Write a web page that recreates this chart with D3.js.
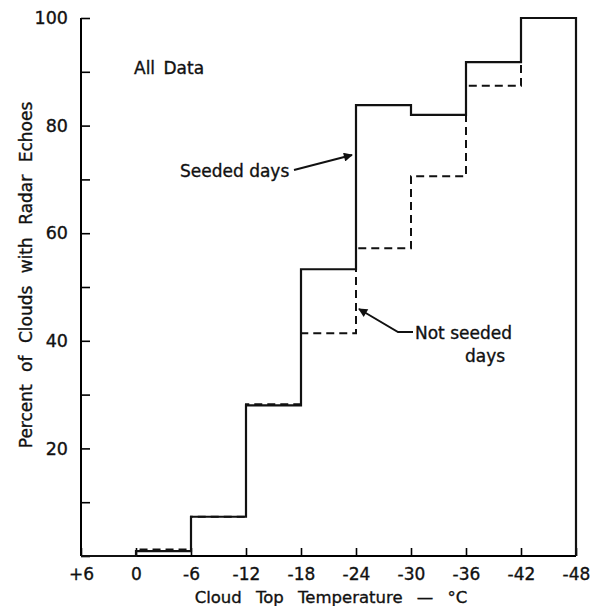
<!DOCTYPE html>
<html>
<head>
<meta charset="utf-8">
<script src="https://cdn.jsdelivr.net/npm/d3@7"></script>
<style>
  body { margin: 0; background: #fff; }
  svg text { font-family: 'DejaVu Sans', 'Liberation Sans', sans-serif; fill: #111; stroke: #111; stroke-width: 0.35px; }
</style>
</head>
<body>
<main></main>
<script>
// bin edges, cloud top temperature (deg C)
const binEdges = [6, 0, -6, -12, -18, -24, -30, -36, -42, -48]
const xTickLabels = ['+6', '0', '-6', '-12', '-18', '-24', '-30', '-36', '-42', '-48']
// percent of clouds with radar echoes, one value per bin
const seeded = [0, 0.9, 7.3, 28, 53.3, 83.8, 82, 91.8, 100]
const notSeeded = [0, 1.2, 7.3, 28.2, 41.4, 57.2, 70.6, 87.4, 100]
const yTicks = [0, 10, 20, 30, 40, 50, 60, 70, 80, 90, 100]
const yLabels = [20, 40, 60, 80, 100]

const width = 590
const height = 606
const margin = { left: 81, right: 14, top: 18, bottom: 50 }

const svg = d3.select('main')
  .append('svg')
  .attr('width', width)
  .attr('height', height)

const x = d3.scaleLinear()
  .domain([6, -48])
  .range([margin.left, width - margin.right])
const y = d3.scaleLinear()
  .domain([0, 100])
  .range([height - margin.bottom, margin.top])

// axes
const xAxis = d3.axisBottom(x)
  .tickValues(binEdges)
  .tickSize(-8)
  .tickFormat((d, i) => xTickLabels[i])
const gx = svg.append('g')
  .attr('transform', `translate(0,${y(0)})`)
  .call(xAxis)
gx.select('.domain').attr('stroke-width', 2).attr('d', `M${x(6)},0H${x(-48)}`)
gx.selectAll('.tick line').attr('stroke-width', 1.6)
gx.selectAll('.tick text')
  .attr('y', 10)
  .attr('dy', '0.8em')
  .style('font-size', '17px')

const yAxis = d3.axisLeft(y)
  .tickValues(yTicks)
  .tickSize(-9)
  .tickFormat(d => yLabels.includes(d) ? d : '')
const gy = svg.append('g')
  .attr('transform', `translate(${x(6)},0)`)
  .call(yAxis)
gy.select('.domain').attr('stroke-width', 2).attr('d', `M0,${y(100)}V${y(0)}`)
gy.selectAll('.tick line').attr('stroke-width', 1.6)
gy.selectAll('.tick text')
  .attr('x', -13)
  .style('font-size', '17.5px')

// step lines
const stepPoints = vals => {
  const pts = vals.map((v, i) => [binEdges[i], v])
  pts.push([binEdges[binEdges.length - 1], vals[vals.length - 1]])
  pts.push([binEdges[binEdges.length - 1], 0])
  return pts
}
const line = d3.line()
  .x(d => x(d[0]))
  .y(d => y(d[1]))
  .curve(d3.curveStepAfter)

svg.append('path')
  .attr('d', line(stepPoints(notSeeded)))
  .attr('fill', 'none')
  .attr('stroke', '#111')
  .attr('stroke-width', 2)
  .attr('stroke-dasharray', '8,5')

svg.append('path')
  .attr('d', line(stepPoints(seeded)))
  .attr('fill', 'none')
  .attr('stroke', '#111')
  .attr('stroke-width', 2.2)

// arrow marker
svg.append('defs')
  .append('marker')
  .attr('id', 'arrow')
  .attr('viewBox', '0 0 10 10')
  .attr('refX', 9)
  .attr('refY', 5)
  .attr('markerWidth', 14)
  .attr('markerHeight', 9)
  .attr('markerUnits', 'userSpaceOnUse')
  .attr('orient', 'auto')
  .append('path')
  .attr('d', 'M0,0L10,5L0,10Z')
  .attr('fill', '#111')

svg.append('path')
  .attr('d', 'M294,170L352,155')
  .attr('fill', 'none')
  .attr('stroke', '#111')
  .attr('stroke-width', 2)
  .attr('marker-end', 'url(#arrow)')

svg.append('path')
  .attr('d', 'M413,332L398,332L359,309')
  .attr('fill', 'none')
  .attr('stroke', '#111')
  .attr('stroke-width', 2)
  .attr('marker-end', 'url(#arrow)')

// annotations
svg.append('text')
  .attr('x', 134)
  .attr('y', 74)
  .style('font-size', '17px')
  .style('word-spacing', '3px')
  .text('All Data')
svg.append('text')
  .attr('x', 180)
  .attr('y', 177)
  .style('font-size', '17px')
  .text('Seeded days')
svg.append('text')
  .attr('x', 415)
  .attr('y', 339)
  .style('font-size', '17px')
  .text('Not seeded')
svg.append('text')
  .attr('x', 465)
  .attr('y', 362)
  .style('font-size', '17px')
  .text('days')

// axis titles
svg.append('text')
  .attr('x', 331)
  .attr('y', 603)
  .attr('text-anchor', 'middle')
  .style('font-size', '16.5px')
  .style('word-spacing', '9px')
  .text('Cloud Top Temperature — °C')
svg.append('text')
  .attr('transform', 'translate(32,275) rotate(-90)')
  .attr('text-anchor', 'middle')
  .style('font-size', '17px')
  .style('word-spacing', '7px')
  .text('Percent of Clouds with Radar Echoes')
</script>
</body>
</html>
